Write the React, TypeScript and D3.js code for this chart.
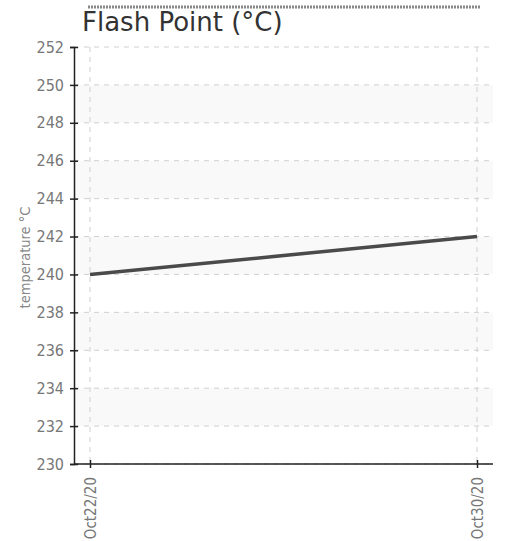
import { useRef, useEffect } from 'react';
import * as d3 from 'd3';

const dates = ['2020-10-22', '2020-10-30'];
const temps = [240, 242];
const yTicks = [230, 232, 234, 236, 238, 240, 242, 244, 246, 248, 250, 252];
const title = 'Flash Point (°C)';
const yLabel = 'temperature °C';

export default function App() {
    const svgRef = useRef<SVGSVGElement>(null);

    const drawChart = () => {
        const svg = d3.select(svgRef.current);
        svg.selectAll('*').remove();
        const W = 508, H = 541;
        const margin = { top: 47, right: 15, bottom: 77, left: 74 };
        const width = W - margin.left - margin.right;
        const height = H - margin.top - margin.bottom;
        const tickFont = "'DejaVu Sans Condensed', 'Liberation Sans Narrow', sans-serif";

        const data = dates.map((d, i) => ({ date: new Date(d + 'T00:00:00'), value: temps[i] }));

        const g = svg.append('g').attr('transform', `translate(${margin.left}, ${margin.top})`);

        const x = d3.scaleTime()
            .domain(d3.extent(data, d => d.date) as [Date, Date])
            .range([16, width - 16]);
        const y = d3.scaleLinear().domain([230, 252]).range([height, 0]);

        // alternating bands
        const bandStarts = yTicks.filter((t, i) => i % 2 === 1 && t < 252);
        g.selectAll('.band')
            .data(bandStarts)
            .enter()
            .append('rect')
            .attr('x', 0)
            .attr('width', width)
            .attr('y', d => y(d + 2))
            .attr('height', d => y(d) - y(d + 2))
            .attr('fill', '#f9f9f9');

        // horizontal grid
        g.selectAll('.hgrid')
            .data(yTicks)
            .enter()
            .append('line')
            .attr('x1', 0)
            .attr('x2', width)
            .attr('y1', d => y(d))
            .attr('y2', d => y(d))
            .attr('stroke', '#d0d0d0')
            .attr('stroke-dasharray', '5,5');

        // vertical grid
        g.selectAll('.vgrid')
            .data(data)
            .enter()
            .append('line')
            .attr('x1', d => x(d.date))
            .attr('x2', d => x(d.date))
            .attr('y1', 0)
            .attr('y2', height)
            .attr('stroke', '#d0d0d0')
            .attr('stroke-dasharray', '5,5');

        // y axis
        const yAxis = d3.axisLeft(y).tickValues(yTicks).tickSizeOuter(0).tickSize(4).tickPadding(6);
        const ya = g.append('g').call(yAxis);
        ya.select('.domain').attr('stroke', '#222').attr('stroke-width', 1.5);
        ya.selectAll('.tick line').attr('x2', 4).attr('x1', -4).attr('stroke', '#222').attr('stroke-width', 1.5);
        ya.selectAll('.tick text')
            .attr('fill', '#777')
            .style('font-family', tickFont)
            .style('font-size', '16px');

        // x axis
        const xAxis = d3.axisBottom(x)
            .tickValues(data.map(d => d.date))
            .tickFormat(d3.timeFormat('%b%d/%y') as any)
            .tickSizeOuter(0)
            .tickSize(4);
        const xa = g.append('g').attr('transform', `translate(0, ${height})`).call(xAxis);
        xa.select('.domain').attr('stroke', '#222').attr('stroke-width', 1.5).attr('d', `M0,0H${width}`);
        xa.selectAll('.tick line').attr('y1', -4).attr('y2', 4).attr('stroke', '#222').attr('stroke-width', 1.5);
        xa.selectAll('.tick text')
            .attr('fill', '#777')
            .attr('transform', 'rotate(-90)')
            .attr('text-anchor', 'end')
            .attr('x', -13)
            .attr('y', 0)
            .attr('dy', '0.35em')
            .style('font-family', tickFont)
            .style('font-size', '15px');

        // line
        const line = d3.line<{ date: Date; value: number }>()
            .x(d => x(d.date))
            .y(d => y(d.value));
        g.append('path')
            .datum(data)
            .attr('d', line)
            .attr('fill', 'none')
            .attr('stroke', '#4a4a4a')
            .attr('stroke-width', 3.5);

        // y label
        svg.append('text')
            .attr('transform', `translate(30, ${margin.top + height / 2 + 2}) rotate(-90)`)
            .attr('text-anchor', 'middle')
            .attr('fill', '#888')
            .style('font-family', tickFont)
            .style('font-size', '14.5px')
            .text(yLabel);

        // title
        svg.append('text')
            .attr('x', 82)
            .attr('y', 31)
            .attr('fill', '#333')
            .style('font-family', "'DejaVu Sans', sans-serif")
            .style('font-size', '26px')
            .text(title);

        // cover over top of title, then dotted line
        svg.append('rect')
            .attr('x', 88)
            .attr('y', 0)
            .attr('width', 400)
            .attr('height', 9)
            .attr('fill', '#fff');
        svg.append('line')
            .attr('x1', 88)
            .attr('x2', 481)
            .attr('y1', 7)
            .attr('y2', 7)
            .attr('stroke', '#888')
            .attr('stroke-width', 3)
            .attr('stroke-dasharray', '2,1');
    };

    useEffect(() => {
        drawChart();
    }, []);

    return (
        <svg ref={svgRef} width={508} height={541}
            style={{ position: 'absolute', left: 0, top: 0, background: '#fff' }}></svg>
    );
}
